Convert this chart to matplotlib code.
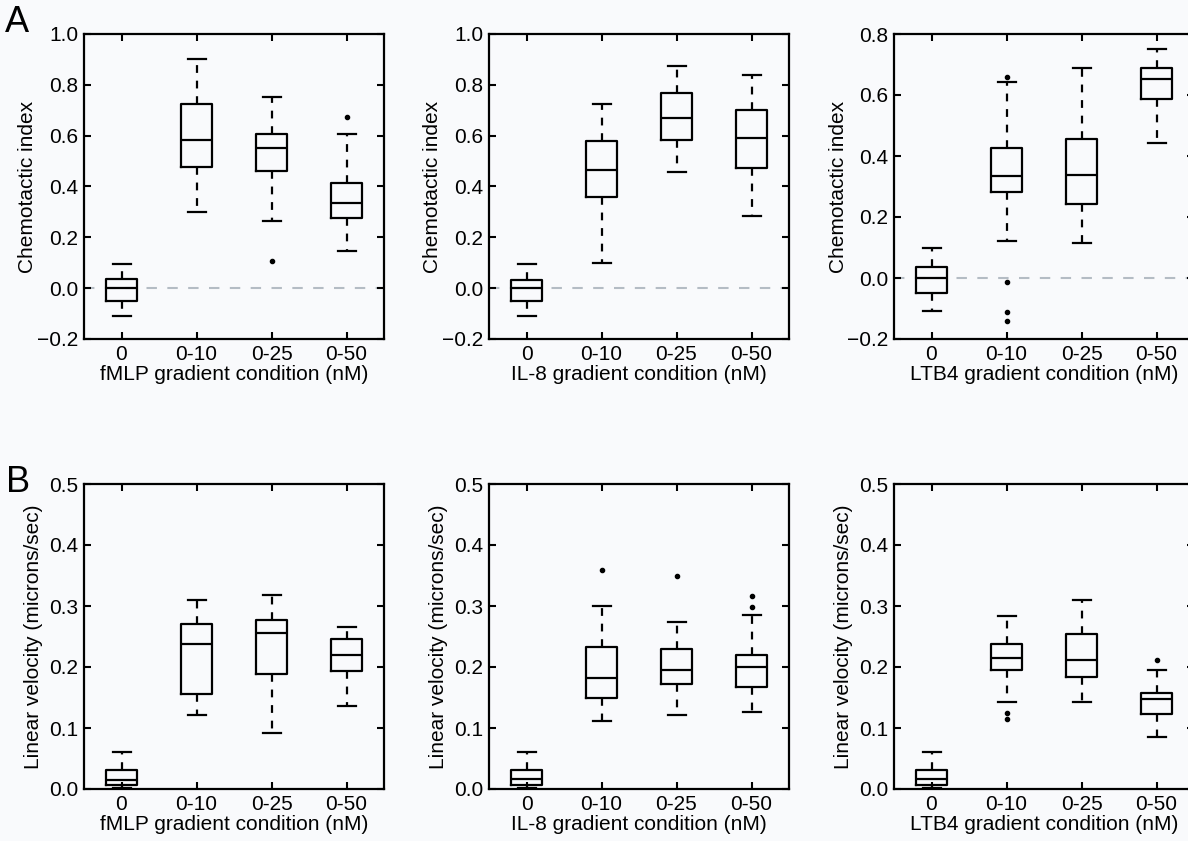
import numpy as np
import matplotlib
matplotlib.use("Agg")
import matplotlib.pyplot as plt

plt.rcParams['font.family'] = ['Liberation Sans', 'DejaVu Sans']

conditions = ['0', '0-10', '0-25', '0-50']

# five-number summaries per condition: [whisker low, q1, median, q3, whisker high]
fmlp_ci = [[-0.108, -0.050, 0.000, 0.036, 0.095],
           [0.300, 0.478, 0.582, 0.726, 0.900],
           [0.263, 0.462, 0.551, 0.605, 0.751],
           [0.147, 0.278, 0.334, 0.413, 0.607]]
fmlp_ci_out = [[], [], [0.105], [0.675]]

il8_ci = [[-0.108, -0.050, 0.000, 0.034, 0.094],
          [0.100, 0.360, 0.464, 0.578, 0.724],
          [0.456, 0.582, 0.670, 0.768, 0.876],
          [0.282, 0.471, 0.592, 0.700, 0.838]]
il8_ci_out = [[], [], [], []]

ltb4_ci = [[-0.108, -0.048, 0.000, 0.035, 0.098],
           [0.120, 0.281, 0.333, 0.427, 0.641],
           [0.115, 0.243, 0.339, 0.457, 0.687],
           [0.443, 0.587, 0.652, 0.687, 0.752]]
ltb4_ci_out = [[], [0.660, -0.012, -0.113, -0.142], [], []]

fmlp_v = [[0.002, 0.0066, 0.0148, 0.031, 0.061],
          [0.121, 0.156, 0.2385, 0.271, 0.310],
          [0.091, 0.188, 0.255, 0.277, 0.318],
          [0.136, 0.194, 0.220, 0.246, 0.266]]
fmlp_v_out = [[], [], [], []]

il8_v = [[0.002, 0.006, 0.0160, 0.031, 0.061],
         [0.112, 0.149, 0.182, 0.232, 0.300],
         [0.121, 0.172, 0.195, 0.229, 0.274],
         [0.126, 0.167, 0.200, 0.219, 0.286]]
il8_v_out = [[], [0.359], [0.349], [0.316, 0.298]]

ltb4_v = [[0.002, 0.006, 0.0160, 0.031, 0.061],
          [0.143, 0.195, 0.215, 0.238, 0.284],
          [0.143, 0.184, 0.212, 0.254, 0.310],
          [0.086, 0.123, 0.147, 0.157, 0.195]]
ltb4_v_out = [[], [0.125, 0.115], [], [0.211]]

bg = '#f9fafc'
fig = plt.figure(figsize=(11.88, 8.41), dpi=100, facecolor=bg)

lefts = [84 / 1188, 489 / 1188, 894 / 1188]
width = 300 / 1188
bottoms = [1 - 339 / 841, 1 - 789 / 841]
height = 305 / 841

panels = [
    (0, 0, fmlp_ci, fmlp_ci_out, 'fMLP', 'ci', (-0.2, 1.0)),
    (0, 1, il8_ci, il8_ci_out, 'IL-8', 'ci', (-0.2, 1.0)),
    (0, 2, ltb4_ci, ltb4_ci_out, 'LTB4', 'ci', (-0.2, 0.8)),
    (1, 0, fmlp_v, fmlp_v_out, 'fMLP', 'v', (0.0, 0.5)),
    (1, 1, il8_v, il8_v_out, 'IL-8', 'v', (0.0, 0.5)),
    (1, 2, ltb4_v, ltb4_v_out, 'LTB4', 'v', (0.0, 0.5)),
]

for row, col, summ, outs, name, kind, ylim in panels:
    ax = fig.add_axes([lefts[col], bottoms[row], width, height], facecolor=bg)
    stats = []
    for lab, s, o in zip(conditions, summ, outs):
        stats.append(dict(label=lab, whislo=s[0], q1=s[1], med=s[2],
                          q3=s[3], whishi=s[4], fliers=o))
    if kind == 'ci':
        ax.axhline(0, color='#b4bcc4', lw=1.5, ls=(0, (5, 5)), zorder=0)
    ax.bxp(stats, positions=[1, 2, 3, 4], widths=0.42, capwidths=0.24,
           boxprops=dict(color='black', lw=1.6),
           whiskerprops=dict(color='black', lw=1.6, ls=(0, (3.5, 3.5))),
           capprops=dict(color='black', lw=1.6),
           medianprops=dict(color='black', lw=1.6),
           flierprops=dict(marker='o', markersize=3, markerfacecolor='black',
                           markeredgecolor='black'))
    ax.set_xlim(0.5, 4.5)
    ax.set_ylim(*ylim)
    if kind == 'ci':
        ax.set_yticks(np.arange(ylim[0], ylim[1] + 0.01, 0.2))
        ax.set_ylabel('Chemotactic index', fontsize=15)
        ax.yaxis.set_label_coords(-0.155, 0.5)
    else:
        ax.set_yticks(np.arange(0, 0.51, 0.1))
        ax.set_ylabel('Linear velocity (microns/sec)', fontsize=15)
        ax.yaxis.set_label_coords(-0.138, 0.5)
    ax.set_xticks([1, 2, 3, 4])
    ax.set_xticklabels(conditions)
    ax.set_xlabel(name + ' gradient condition (nM)', fontsize=15, labelpad=1)
    ax.tick_params(direction='in', length=5, width=1.5, labelsize=15,
                   top=True, right=True, pad=4)
    for sp in ax.spines.values():
        sp.set_linewidth(1.6)

fig.text(5 / 1188, 1 - 32 / 841, 'A', fontsize=26, va='baseline')
fig.text(6 / 1188, 1 - 492 / 841, 'B', fontsize=26, va='baseline')

fig.savefig('out.png', dpi=100, facecolor=bg)
